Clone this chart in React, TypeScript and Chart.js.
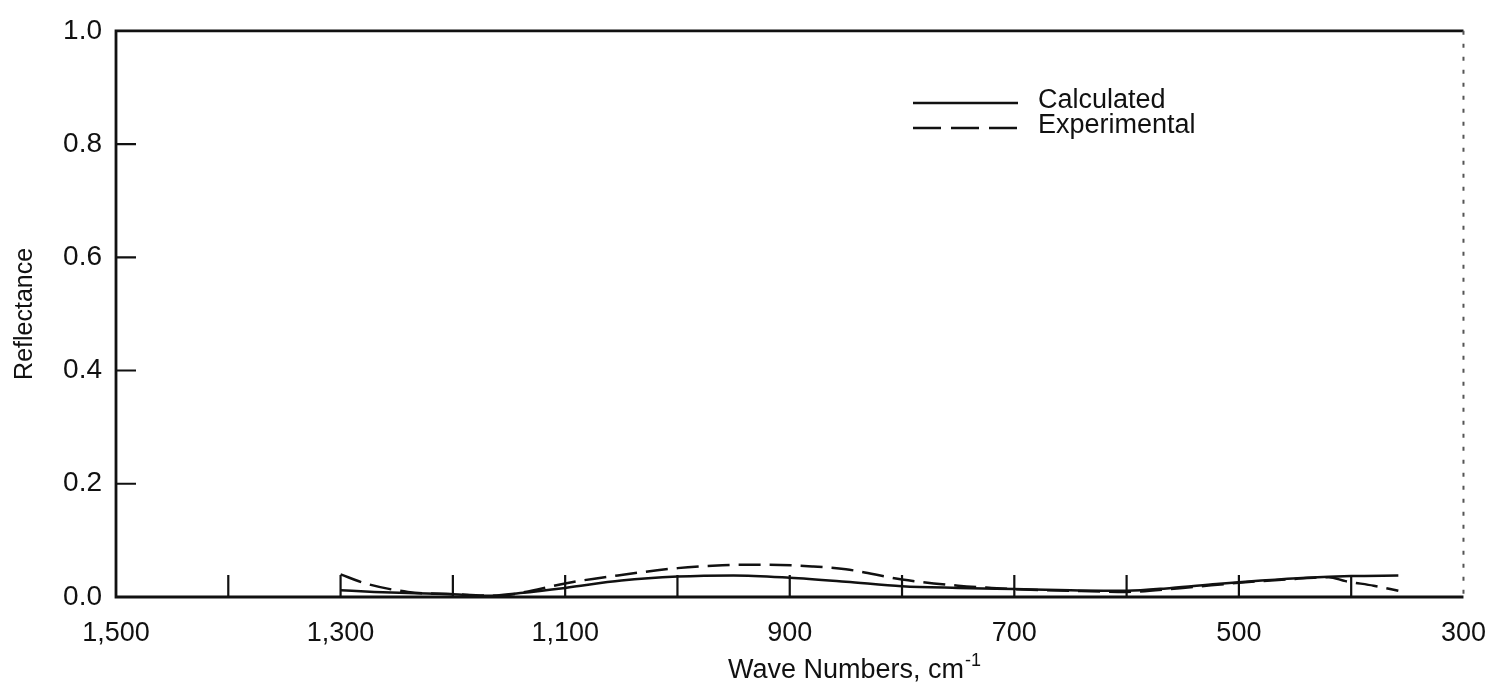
import React, { useEffect, useRef } from 'react';
import { Chart, registerables } from 'chart.js';

Chart.register(...registerables);

// Wave numbers (cm^-1) and reflectance
const calcWave = [1300, 1270, 1240, 1200, 1170, 1140, 1100, 1050, 1000, 950, 900, 850, 800, 750, 700, 650, 600, 560, 520, 480, 440, 400, 358];
const calcRefl = [0.012, 0.009, 0.007, 0.005, 0.002, 0.007, 0.016, 0.029, 0.036, 0.038, 0.034, 0.027, 0.019, 0.016, 0.014, 0.012, 0.011, 0.016, 0.023, 0.029, 0.034, 0.037, 0.038];

const expWave = [1300, 1278, 1240, 1200, 1160, 1130, 1100, 1050, 1000, 960, 920, 880, 850, 800, 750, 720, 700, 650, 600, 550, 500, 450, 420, 405, 380, 358];
const expRefl = [0.040, 0.024, 0.009, 0.005, 0.002, 0.011, 0.024, 0.039, 0.051, 0.056, 0.057, 0.054, 0.049, 0.031, 0.020, 0.016, 0.014, 0.011, 0.009, 0.016, 0.025, 0.032, 0.035, 0.028, 0.020, 0.011];

const xTickMarks = [1400, 1300, 1200, 1100, 1000, 900, 800, 700, 600, 500, 400];
const yTickMarks = [0.2, 0.4, 0.6, 0.8];

const seriesNames = ['Calculated', 'Experimental'];
const xTitle = 'Wave Numbers, cm';
const xTitleSup = '-1';
const yTitle = 'Reflectance';

const FONT = '"Liberation Sans", Arial, Helvetica, sans-serif';
const INK = '#111111';

const decor = {
  id: 'decor',
  afterDraw(chart: any) {
    const { ctx, chartArea } = chart;
    const { left, right, top, bottom } = chartArea;
    const xs = chart.scales.x;
    const ys = chart.scales.y;
    ctx.save();
    ctx.strokeStyle = INK;
    ctx.lineCap = 'butt';

    // frame
    ctx.lineWidth = 2.8;
    ctx.beginPath();
    ctx.moveTo(right, top);
    ctx.lineTo(left, top);
    ctx.lineTo(left, bottom);
    ctx.lineTo(right, bottom);
    ctx.stroke();
    ctx.save();
    ctx.lineWidth = 2;
    ctx.strokeStyle = '#555';
    ctx.setLineDash([4, 9]);
    ctx.beginPath();
    ctx.moveTo(right, top);
    ctx.lineTo(right, bottom);
    ctx.stroke();
    ctx.restore();

    // inward tick marks
    ctx.lineWidth = 2.2;
    ctx.beginPath();
    xTickMarks.forEach((w) => {
      const px = xs.getPixelForValue(w);
      ctx.moveTo(px, bottom);
      ctx.lineTo(px, bottom - 22);
    });
    yTickMarks.forEach((v) => {
      const py = ys.getPixelForValue(v);
      ctx.moveTo(left, py);
      ctx.lineTo(left + 20, py);
    });
    ctx.stroke();

    // legend
    const ds = chart.data.datasets;
    const legX0 = 913;
    const legX1 = 1018;
    const legY = [103, 128];
    ds.forEach((d: any, i: number) => {
      ctx.save();
      ctx.lineWidth = 2.5;
      ctx.strokeStyle = INK;
      ctx.setLineDash(i === 1 ? [28, 10] : []);
      ctx.beginPath();
      ctx.moveTo(legX0, legY[i]);
      ctx.lineTo(legX1, legY[i]);
      ctx.stroke();
      ctx.restore();
      ctx.fillStyle = INK;
      ctx.font = `27px ${FONT}`;
      ctx.textAlign = 'left';
      ctx.textBaseline = 'alphabetic';
      ctx.fillText(d.label, 1038, legY[i] + 5);
    });

    // x title with superscript
    ctx.fillStyle = INK;
    ctx.font = `27px ${FONT}`;
    ctx.textAlign = 'left';
    ctx.textBaseline = 'alphabetic';
    const tx = 728;
    ctx.fillText(xTitle, tx, 678);
    const tw = ctx.measureText(xTitle).width;
    ctx.font = `18px ${FONT}`;
    ctx.fillText(xTitleSup, tx + tw + 1, 666);

    // y title
    ctx.save();
    ctx.translate(25, (top + bottom) / 2);
    ctx.rotate(-Math.PI / 2);
    ctx.font = `25px ${FONT}`;
    ctx.textAlign = 'center';
    ctx.textBaseline = 'middle';
    ctx.fillText(yTitle, 0, 0);
    ctx.restore();

    ctx.restore();
  },
};

export default function App() {
  const ref = useRef<HTMLCanvasElement>(null);
  useEffect(() => {
    const canvas = ref.current;
    if (!canvas) return;
    const chart = new Chart(canvas, {
      type: 'line',
      data: {
        datasets: [
          {
            label: seriesNames[0],
            data: calcWave.map((w, i) => ({ x: w, y: calcRefl[i] })),
            borderColor: INK,
            borderWidth: 2.5,
            pointRadius: 0,
            fill: false,
            cubicInterpolationMode: 'monotone',
          },
          {
            label: seriesNames[1],
            data: expWave.map((w, i) => ({ x: w, y: expRefl[i] })),
            borderColor: INK,
            borderWidth: 2.5,
            borderDash: [22, 9],
            pointRadius: 0,
            fill: false,
            cubicInterpolationMode: 'monotone',
          },
        ],
      },
      options: {
        animation: false,
        responsive: true,
        maintainAspectRatio: false,
        layout: { padding: { top: 25, right: 28, left: 0, bottom: 0 } },
        plugins: {
          legend: { display: false },
          tooltip: { enabled: false },
          title: { display: false },
        },
        scales: {
          x: {
            type: 'linear',
            min: 300,
            max: 1500,
            reverse: true,
            grid: { display: false, drawTicks: false },
            border: { display: false },
            ticks: {
              stepSize: 200,
              padding: 20,
              color: INK,
              font: { size: 27, family: FONT },
              maxRotation: 0,
              autoSkip: false,
              callback: (v: any) => Number(v).toLocaleString('en-US'),
            },
            afterFit: (s: any) => {
              s.height = 91;
            },
          },
          y: {
            type: 'linear',
            min: 0,
            max: 1,
            grid: { display: false, drawTicks: false },
            border: { display: false },
            ticks: {
              stepSize: 0.2,
              padding: 14,
              color: INK,
              font: { size: 28, family: FONT },
              callback: (v: any) => Number(v).toFixed(1),
            },
            afterFit: (s: any) => {
              s.width = 116;
            },
          },
        },
      },
      plugins: [decor],
    } as any);
    return () => chart.destroy();
  }, []);
  return (
    <div style={{ position: 'absolute', left: 0, top: 0, width: 1506, height: 688 }}>
      <canvas ref={ref} />
    </div>
  );
}
